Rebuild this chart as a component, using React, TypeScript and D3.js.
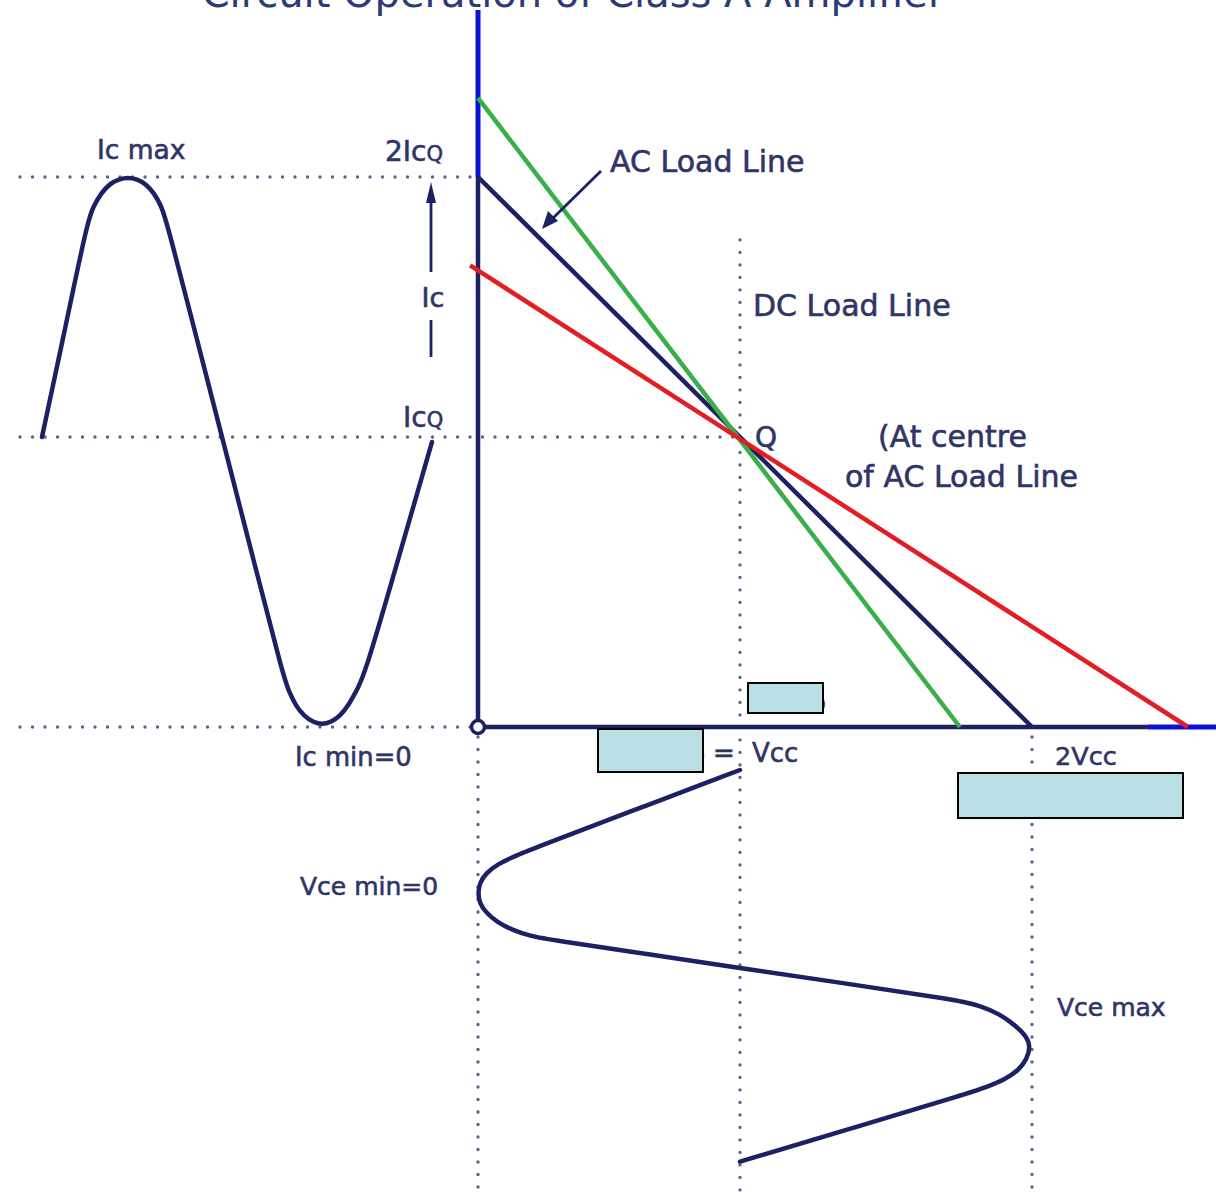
import React from "react";
import * as d3 from "d3";

// ---- data (diagram units: Vce in multiples of Vcc, Ic in multiples of ICQ, phase in degrees) ----
const vceLevels = [0, 1, 2];
const icLevels = [0, 1, 2];

// Navy AC load line (Vce, Ic)
const acLoadLine: [number, number][] = [[0, 2.0], [2.0, 0]];
// Green line
const greenLine: [number, number][] = [[0, 2.304], [1.753, 0]];
// Red line
const redLine: [number, number][] = [[-0.03, 1.66], [2.534, 0]];

// Collector current waveform (phase, Ic)
const icPhase = [0, 20.3, 41.3, 47.1, 54.5, 62.8, 71.1, 79.4, 87.7, 96.0, 103.4, 109.8, 115.4, 145.8, 166.2, 196.6, 222.5, 228.0, 234.5, 241.8, 250.2, 258.5, 266.8, 275.1, 282.5, 288.9, 297.2, 328.6, 360];
const icValue = [1.0, 1.396, 1.817, 1.885, 1.938, 1.975, 1.992, 1.998, 1.992, 1.973, 1.938, 1.892, 1.825, 1.33, 1.0, 0.556, 0.179, 0.121, 0.072, 0.038, 0.017, 0.008, 0.017, 0.038, 0.072, 0.117, 0.169, 0.576, 0.983];

// Collector-emitter voltage waveform (phase, Vce)
const vcePhase = [0, 38.3, 69.8, 79.0, 86.3, 94.6, 103.8, 113.0, 122.2, 131.3, 139.6, 146.9, 152.4, 156.1, 169.4, 181.8, 196.7, 211.2, 216.3, 224.1, 235.1, 245.2, 254.4, 265.4, 275.5, 284.2, 291.6, 296.6, 328.2, 359.7];
const vceValue = [1.0, 0.58, 0.237, 0.141, 0.076, 0.031, 0.006, 0.0, 0.006, 0.031, 0.073, 0.13, 0.198, 0.282, 0.656, 1.0, 1.377, 1.743, 1.822, 1.89, 1.945, 1.983, 1.994, 1.983, 1.955, 1.908, 1.84, 1.784, 1.394, 1.0];

// axis extents
const yAxisTop = 2.642;
const xAxisEnd = 2.63;
const xAxisNavyEnd = 2.397;

const title = "Circuit Operation of Class A Amplifier";

const NAVY = "#1b2163";
const BLUE = "#0b10d6";
const TEXT = "#2f3566";
const DOT = "#5d6288";
const FONT = "'DejaVu Sans', Verdana, sans-serif";

export default function App() {
  const W = 1216, H = 1192;
  const x = d3.scaleLinear().domain(vceLevels).range([478, 740, 1032]);
  const y = d3.scaleLinear().domain(icLevels).range([727, 437, 177]);
  const tLeft = d3.scaleLinear().domain([0, 360]).range([42, 432]);
  const tBottom = d3.scaleLinear().domain([0, 360]).range([770, 1162]);

  const smooth = d3.line<[number, number]>().curve(d3.curveBasis);
  const straight = d3.line<[number, number]>();

  const icPath = smooth(icPhase.map((t, i) => [tLeft(t), y(icValue[i])] as [number, number]));
  const vcePath = smooth(vcePhase.map((t, i) => [x(vceValue[i]), tBottom(t)] as [number, number]));
  const ll = (pts: [number, number][]) => straight(pts.map(([v, c]) => [x(v), y(c)] as [number, number]));

  const leftEdge = tLeft(-20.3);
  const bottomEdge = tBottom(388);
  const dotStyle = { stroke: DOT, strokeWidth: 3.4, strokeDasharray: "0 12.5", strokeLinecap: "round" as const, fill: "none" };

  const boxFill = "#b9e0e4";

  return (
    <svg width={W} height={H} style={{ position: "absolute", left: 0, top: 0, background: "#fff" }} fontFamily={FONT}>
      <rect x={0} y={0} width={W} height={H} fill="#fff" />
      {/* title (cut off at top, as in the reference) */}
      <text x={573} y={7} textAnchor="middle" fontSize={40} fill="#2c3a78">{title}</text>

      {/* dotted guides */}
      <line x1={leftEdge} x2={x(0)} y1={y(2)} y2={y(2)} {...dotStyle} />
      <line x1={leftEdge} x2={x(1)} y1={y(1)} y2={y(1)} {...dotStyle} />
      <line x1={leftEdge} x2={x(0)} y1={y(0)} y2={y(0)} {...dotStyle} />
      <line x1={x(1)} x2={x(1)} y1={y(1.758)} y2={bottomEdge} {...dotStyle} />
      <line x1={x(0)} x2={x(0)} y1={y(0) + 10} y2={bottomEdge} {...dotStyle} />
      <line x1={x(2)} x2={x(2)} y1={y(0) + 10} y2={bottomEdge} {...dotStyle} />

      {/* axes */}
      <line x1={x(0)} x2={x(0)} y1={y(yAxisTop)} y2={y(2.0)} stroke={BLUE} strokeWidth={5} />
      <line x1={x(0)} x2={x(0)} y1={y(2.0)} y2={y(0)} stroke={NAVY} strokeWidth={4.5} />
      <line x1={x(0)} x2={x(xAxisNavyEnd)} y1={y(0)} y2={y(0)} stroke={NAVY} strokeWidth={4.5} />
      <line x1={x(xAxisNavyEnd)} x2={x(xAxisEnd)} y1={y(0)} y2={y(0)} stroke={BLUE} strokeWidth={5} />

      {/* load lines */}
      <path d={ll(acLoadLine) || ""} stroke={NAVY} strokeWidth={4.5} fill="none" />
      <path d={ll(greenLine) || ""} stroke="#3aae48" strokeWidth={4.5} fill="none" />
      <path d={ll(redLine) || ""} stroke="#e21d24" strokeWidth={4.5} fill="none" />

      {/* origin */}
      <circle cx={x(0)} cy={y(0)} r={6.5} fill="#fff" stroke={NAVY} strokeWidth={3.5} />

      {/* waveforms */}
      <path d={icPath || ""} stroke={NAVY} strokeWidth={4.5} fill="none" strokeLinecap="round" strokeLinejoin="round" />
      <path d={vcePath || ""} stroke={NAVY} strokeWidth={4.5} fill="none" strokeLinecap="round" strokeLinejoin="round" />

      {/* Ic arrow */}
      <line x1={431} x2={431} y1={196} y2={272} stroke={NAVY} strokeWidth={2.8} />
      <path d="M431,182 L426,203 L436,203 Z" fill={NAVY} />
      <line x1={431} x2={431} y1={320} y2={357} stroke={NAVY} strokeWidth={2.8} />

      {/* AC load line pointer */}
      <line x1={601} x2={550} y1={171} y2={221} stroke={NAVY} strokeWidth={2.8} />
      <path d="M542,229 L548,211 L558,221 Z" fill={NAVY} />

      {/* labels */}
      <g fill={TEXT} stroke={TEXT} strokeWidth={0.6}>
        <text x={97} y={159} fontSize={26.5}>Ic max</text>
        <text x={385} y={161} fontSize={28}>2Ic<tspan fontSize={21}>Q</tspan></text>
        <text x={610} y={172} fontSize={30}>AC Load Line</text>
        <text x={433} y={307} fontSize={27} textAnchor="middle">Ic</text>
        <text x={753} y={316} fontSize={30}>DC Load Line</text>
        <text x={403} y={427} fontSize={28}>Ic<tspan fontSize={21}>Q</tspan></text>
        <text x={755} y={447} fontSize={28}>Q</text>
        <text x={878} y={447} fontSize={30}>(At centre</text>
        <text x={845} y={487} fontSize={30}>of AC Load Line</text>
        <text x={295} y={766} fontSize={25.8}>Ic min=0</text>
        <text x={762} y={711} fontSize={26}>Vce<tspan fontSize={20}>Q</tspan></text>
        <text x={641} y={762} fontSize={26}>Vce<tspan fontSize={20}>Q</tspan> =</text>
        <text x={752} y={762} fontSize={26}>Vcc</text>
        <text x={1055} y={765} fontSize={25.5}>2Vcc</text>
        <text x={300} y={895} fontSize={25}>Vce min=0</text>
        <text x={1057} y={1016} fontSize={25}>Vce max</text>
      </g>

      {/* cover boxes */}
      <rect x={748} y={683} width={75} height={30} fill={boxFill} stroke="#000" strokeWidth={2} />
      <rect x={598} y={729} width={105} height={43} fill={boxFill} stroke="#000" strokeWidth={2} />
      <rect x={958} y={773} width={225} height={45} fill={boxFill} stroke="#000" strokeWidth={2} />
    </svg>
  );
}
